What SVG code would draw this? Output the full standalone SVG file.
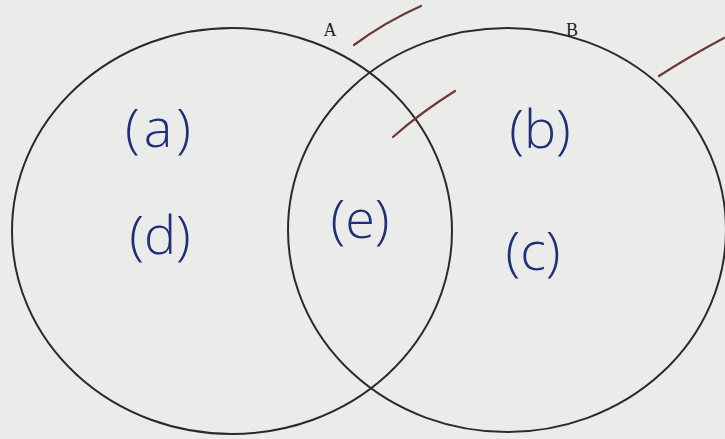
<svg xmlns="http://www.w3.org/2000/svg" width="725" height="439" viewBox="0 0 725 439">
<style>
.set{fill:none;stroke:#2a2a2a;stroke-width:2}
.lbl{font-family:"Liberation Serif",serif;font-size:18px;fill:#222}
.hw{font-family:"Open Sans","DejaVu Sans",sans-serif;font-size:54px;fill:#1f2f78;font-weight:300}
.tick{stroke:#6b3a3a;stroke-width:2.2;stroke-linecap:round;fill:none}
</style>
<rect width="725" height="439" fill="#ebebea"/>
<g id="setA">
<ellipse class="set" cx="232" cy="231" rx="220" ry="203"/>
<text class="lbl" x="330" y="36" text-anchor="middle">A</text>
</g>
<g id="setB">
<ellipse class="set" cx="507" cy="230" rx="219" ry="202"/>
<text class="lbl" x="572" y="36" text-anchor="middle">B</text>
</g>
<g id="marks">
<path class="tick" d="M354 45 Q385 22 421 6"/>
<path class="tick" d="M393 137 Q420 113 455 91"/>
<path class="tick" d="M659 76 Q690 56 724 38"/>
</g>
<g id="regionA">
<text class="hw" x="160" y="147" text-anchor="middle" letter-spacing="4">(a)</text>
<text class="hw" x="160" y="254" text-anchor="middle">(d)</text>
</g>
<g id="regionAB">
<text class="hw" x="360" y="238" text-anchor="middle" font-size="50">(e)</text>
</g>
<g id="regionB">
<text class="hw" x="540" y="148" text-anchor="middle">(b)</text>
<text class="hw" x="533" y="270" text-anchor="middle">(c)</text>
</g>
</svg>
